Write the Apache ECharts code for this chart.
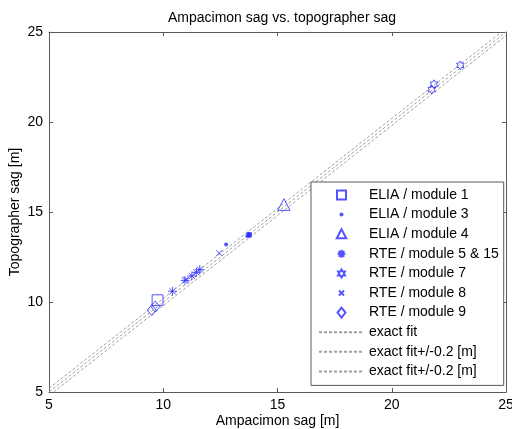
<!DOCTYPE html>
<html><head><meta charset="utf-8">
<script src="https://cdn.jsdelivr.net/npm/echarts@6/dist/echarts.min.js"></script>
<style>html,body{margin:0;padding:0;background:#fff}#c{width:512px;height:429px}</style>
</head><body><div id="c"></div>
<script>
// ---- data ----
var titleText = 'Ampacimon sag vs. topographer sag';
var xName = 'Ampacimon sag [m]';
var yName = 'Topographer sag [m]';
var axisMin = 5, axisMax = 25, axisStep = 5;
var fitOffset = 0.2;

var elia1 = [[9.75, 10.1]];
var elia3 = [[12.75, 13.2], [13.68, 13.66], [13.75, 13.72], [13.8, 13.78], [13.72, 13.79], [13.79, 13.66]];
var elia4 = [[15.28, 15.38]];
var rte515 = [[10.4, 10.6], [10.95, 11.2], [11.25, 11.45], [11.45, 11.65], [11.6, 11.8]];
var rte7 = [[21.75, 21.8], [21.85, 22.1], [23.0, 23.15]];
var rte8 = [[11.0, 11.25], [12.45, 12.72]];
var rte9 = [[9.5, 9.55], [9.65, 9.75]];

var names = ['ELIA / module 1', 'ELIA / module 3', 'ELIA / module 4', 'RTE / module 5 & 15',
  'RTE / module 7', 'RTE / module 8', 'RTE / module 9', 'exact fit', 'exact fit+/-0.2 [m]', 'exact fit+/-0.2 [m] '];

// ---- chart ----
var blue = '#2b2bff';
var font = 'Liberation Sans, Arial, sans-serif';
var pad = 'M-10,-10 M10,10 ';
var rectSym = 'path://' + pad + 'M-9,-9 L9,-9 L9,9 L-9,9 Z';
var dotSym = 'path://' + pad + 'M-4,0 A4,4 0 1,0 4,0 A4,4 0 1,0 -4,0 Z';
var triSym = 'path://' + pad + 'M0,-10 L9.5,8 L-9.5,8 Z';
var asterisk = 'path://' + pad + 'M0,-8 L0,8 M-8,0 L8,0 M-5.6,-5.6 L5.6,5.6 M-5.6,5.6 L5.6,-5.6';
var hexagram = 'path://' + pad + 'M0,-8 L2.31,-4 L6.93,-4 L4.62,0 L6.93,4 L2.31,4 L0,8 L-2.31,4 L-6.93,4 L-4.62,0 L-6.93,-4 L-2.31,-4 Z';
var cross = 'path://' + pad + 'M-5,-5 L5,5 M-5,5 L5,-5';
var diaSym = 'path://' + pad + 'M0,-10 L8,0 L0,10 L-8,0 Z';

function scat(name, data, symbol, size, filled) {
  return {
    name: name, type: 'scatter', data: data, symbol: symbol, symbolSize: size,
    itemStyle: filled ? {color: blue} : {color: 'rgba(255,255,255,0)', borderColor: blue, borderWidth: 1},
    z: 5
  };
}
function fit(name, off) {
  var d;
  if (off > 0) d = [[axisMin, axisMin + off], [axisMax - off, axisMax]];
  else if (off < 0) d = [[axisMin - off, axisMin], [axisMax, axisMax + off]];
  else d = [[axisMin, axisMin], [axisMax, axisMax]];
  return {
    name: name, type: 'line', data: d, symbol: 'none', silent: true,
    lineStyle: {color: '#a0a0a0', width: 1, type: [3, 2]},
    itemStyle: {color: 'rgba(0,0,0,0)', borderWidth: 0}
  };
}

function axis(pos, show) {
  return {
    type: 'value', position: pos, min: axisMin, max: axisMax, interval: axisStep,
    splitLine: {show: false},
    axisLine: {show: true, onZero: false, lineStyle: {color: '#5a5a5a', width: 1}},
    axisTick: {show: true, inside: true, length: 4, lineStyle: {color: '#5a5a5a'}},
    axisLabel: {show: show, color: '#000', fontSize: 14, fontFamily: font, margin: 6}
  };
}

var xb = axis('bottom', true);
xb.name = xName; xb.nameLocation = 'middle'; xb.nameGap = 22; xb.nameMoveOverlap = false;
xb.nameTextStyle = {color: '#000', fontSize: 14, fontFamily: font};
var yl = axis('left', true);
yl.name = yName; yl.nameLocation = 'middle'; yl.nameGap = 27; yl.nameMoveOverlap = false;
yl.nameTextStyle = {color: '#000', fontSize: 14, fontFamily: font};

var chart = echarts.init(document.getElementById('c'), null, {renderer: 'canvas'});
chart.setOption({
  animation: false,
  backgroundColor: '#fff',
  title: {text: titleText, left: 277, top: 6, textAlign: 'center',
    textStyle: {color: '#000', fontSize: 14, fontWeight: 'normal', fontFamily: font}},
  grid: {left: 49, right: 6, top: 32, bottom: 37, containLabel: false, outerBoundsMode: 'none'},
  xAxis: [xb, axis('top', false)],
  yAxis: [yl, axis('right', false)],
  legend: {
    orient: 'vertical', left: 311, top: 182,
    data: names,
    itemWidth: 45, itemHeight: 10, itemGap: 5.6, textGap: 3,
    padding: [6, 5, 7, 7],
    borderColor: '#5a5a5a', borderWidth: 1, borderRadius: 0, backgroundColor: '#fff',
    textStyle: {color: '#000', fontSize: 14, fontFamily: font},
    selectedMode: false
  },
  series: [
    scat(names[0], elia1, rectSym, 12, false),
    scat(names[1], elia3, dotSym, 10, true),
    scat(names[2], elia4, triSym, 13, false),
    scat(names[3], rte515, asterisk, 11, false),
    scat(names[4], rte7, hexagram, 11, false),
    scat(names[5], rte8, cross, 12, false),
    scat(names[6], rte9, diaSym, 11, false),
    fit(names[7], 0),
    fit(names[8], fitOffset),
    fit(names[9], -fitOffset)
  ]
});
</script></body></html>
